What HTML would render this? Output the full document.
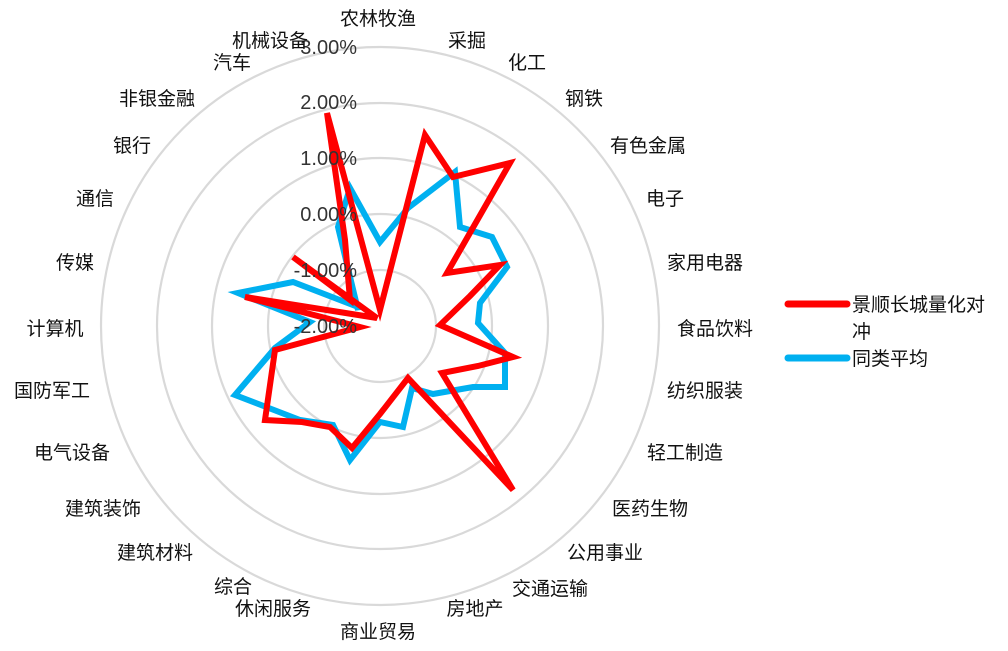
<!DOCTYPE html>
<html><head><meta charset="utf-8"><style>
html,body{margin:0;padding:0;background:#fff;}
svg{display:block;}
.c{font-family:"Liberation Sans","Noto Sans CJK SC",sans-serif;font-size:19px;fill:#111;}
.v{font-family:"Liberation Sans",sans-serif;font-size:20px;fill:#333;}
</style></head><body>
<svg width="1008" height="651" viewBox="0 0 1008 651" xmlns="http://www.w3.org/2000/svg">
<g fill="none" stroke="#d9d9d9" stroke-width="2.2">
<circle cx="380" cy="326" r="56"/>
<circle cx="380" cy="326" r="112"/>
<circle cx="380" cy="326" r="168"/>
<circle cx="380" cy="326" r="223"/>
<circle cx="380" cy="326" r="279"/>
</g>
<polygon fill="none" stroke="#00b0f0" stroke-width="6" stroke-linejoin="miter" points="380,242 408,208 455,172 460,227 492,237 507,267 480,303 478,323 505,353 505,387 473,387 433,394 412,388 403,427 380,422 350,460 333,425 300,420 235,395 275,348 310,322 238,293 293,282 358,307 358,310 338,227 350,188"/>
<polygon fill="none" stroke="#ff0000" stroke-width="6" stroke-linejoin="miter" points="380,310 425,135 453,177 510,163 447,273 500,265 470,296 440,325 513,357 478,366 442,373 513,490 408,378 380,414 352,448 330,427 302,422 265,420 275,350 360,327 245,297 377,318 293,257 350,300 345,240 327,113"/>
<g class="v" text-anchor="end">
<text x="357" y="54">3.00%</text>
<text x="357" y="109">2.00%</text>
<text x="357" y="165">1.00%</text>
<text x="357" y="221">0.00%</text>
<text x="357" y="277">-1.00%</text>
<text x="357" y="333">-2.00%</text>
</g>
<g class="c" text-anchor="middle">
<text x="378" y="25">农林牧渔</text>
<text x="467" y="47">采掘</text>
<text x="527" y="69">化工</text>
<text x="584" y="105">钢铁</text>
<text x="648" y="152">有色金属</text>
<text x="665" y="205">电子</text>
<text x="705" y="269">家用电器</text>
<text x="715" y="335">食品饮料</text>
<text x="705" y="397">纺织服装</text>
<text x="685" y="459">轻工制造</text>
<text x="650" y="515">医药生物</text>
<text x="605" y="559">公用事业</text>
<text x="550" y="595">交通运输</text>
<text x="475" y="615">房地产</text>
<text x="378" y="638">商业贸易</text>
<text x="273" y="615">休闲服务</text>
<text x="233" y="593">综合</text>
<text x="155" y="559">建筑材料</text>
<text x="103" y="515">建筑装饰</text>
<text x="72" y="459">电气设备</text>
<text x="52" y="397">国防军工</text>
<text x="55" y="335">计算机</text>
<text x="75" y="269">传媒</text>
<text x="95" y="205">通信</text>
<text x="132" y="152">银行</text>
<text x="157" y="105">非银金融</text>
<text x="232" y="69">汽车</text>
<text x="270" y="47">机械设备</text>
</g>
<line x1="788" y1="304" x2="847" y2="304" stroke="#ff0000" stroke-width="7" stroke-linecap="round"/>
<line x1="788" y1="358" x2="847" y2="358" stroke="#00b0f0" stroke-width="7" stroke-linecap="round"/>
<g class="c">
<text x="852" y="311">景顺长城量化对</text>
<text x="852" y="338">冲</text>
<text x="852" y="365">同类平均</text>
</g>
</svg>
</body></html>
